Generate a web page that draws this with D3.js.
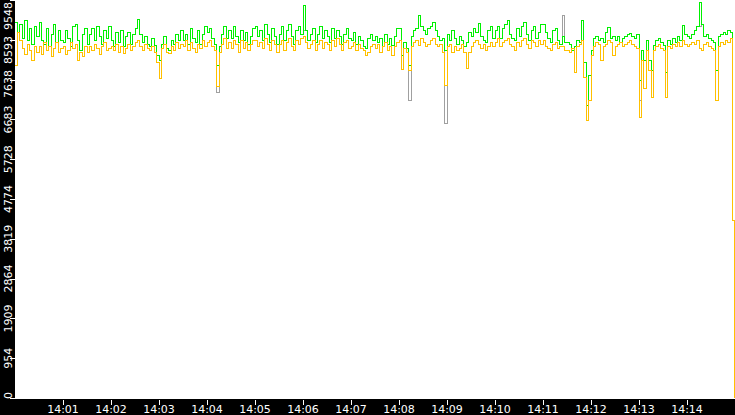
<!DOCTYPE html>
<html><head><meta charset="utf-8">
<script src="https://cdn.jsdelivr.net/npm/d3@7"></script>
<style>html,body{margin:0;padding:0;background:#fff;overflow:hidden}</style>
</head><body><svg id="c" width="735" height="415"></svg>
<script>
const startTime = "2024-01-01T14:00:00Z";
const endTime = "2024-01-01T14:15:00Z";
const sampleStepSeconds = 3;
const lastSampleSecond = 899;

const yTickValues = [0, 954, 1909, 2864, 3819, 4774, 5728, 6683, 7638, 8593, 9548];
const yTickLabels = ["0", "954", "1909", "2864", "3819", "4774", "5728", "6683", "7638", "8593", "9548"];
const xTickLabels = ["14:01","14:02","14:03","14:04","14:05","14:06","14:07","14:08","14:09","14:10","14:11","14:12","14:13","14:14"];

const greenSeries = [
9020,8780,8972,8636,9068,8588,8876,8492,8924,8684,
9020,8588,8492,8876,8444,8732,8972,8540,8828,8588,
8540,8828,8636,8444,8924,8972,8588,8348,8732,8876,
8492,8732,8876,8588,8924,8684,8492,8828,8636,8924,
8588,8444,8780,8540,8828,8444,8684,8780,8492,8732,
8876,9092,8732,8540,8684,8492,8444,8636,8468,8228,
8108,8492,8684,8396,8348,8588,8492,8732,8588,8828,
8588,8732,8492,8876,8636,8540,8828,8492,8732,8924,
8780,8876,8636,8492,7988,8444,8732,8924,8636,8828,
8636,8924,8684,8540,8828,8588,8780,8492,8684,8876,
8924,8684,8828,8588,8972,8732,8540,8876,8684,8492,
8732,8924,8588,8828,8972,8684,8492,8828,8924,8732,
9428,8828,8588,8732,8876,8540,8732,8924,8636,8828,
8684,8540,8876,8636,8828,8684,8492,8732,8876,8636,
8588,8780,8492,8684,8588,8444,8396,8636,8732,8588,
8684,8540,8636,8444,8732,8492,8636,8468,8684,8876,
8876,8228,8540,8396,7988,8684,8828,8876,9188,8924,
8828,8732,8876,8924,9020,8828,8684,8588,8636,8348,
8732,8588,8828,8636,8492,8684,8588,8444,8540,8780,
8684,8876,8780,8996,8684,8588,8540,8828,8924,8636,
8828,8924,8636,8876,8972,9068,8732,8636,8588,8876,
8684,8924,9020,8732,8588,8828,8924,8636,8780,8972,
8972,8780,8636,8540,8828,8876,8588,8492,8684,8540,
8540,8492,8348,8444,8588,8540,9068,8060,7029,7748,
8348,8636,8684,8588,8636,8540,8780,8900,8636,8684,
8588,8684,8540,8636,8684,8732,8756,8684,8636,8732,
7628,8348,8108,8588,8108,7868,8468,8588,8636,8540,
8468,7820,8588,8492,8636,8540,8684,8588,8948,8732,
8684,8636,8732,8828,8924,9500,8972,8684,8732,8636,
8588,8540,7868,8684,8732,8780,8732,8828,8780,4270,
4270];

const orangeSeries = [
7988,8780,8588,8396,8252,8492,8348,8108,8444,8300,
8444,8252,8540,8348,8444,8204,8396,8540,8300,8396,
8444,8252,8348,8540,8396,8492,8108,8300,8204,8444,
8300,8444,8348,8492,8396,8252,8444,8540,8348,8396,
8444,8348,8492,8300,8444,8276,8396,8492,8348,8444,
8540,8588,8444,8348,8492,8396,8348,8444,8300,8060,
7676,8396,8492,8300,8276,8444,8348,8540,8396,8492,
8444,8588,8348,8540,8396,8300,8492,8396,8588,8444,
8540,8588,8444,8348,7484,8300,8492,8636,8396,8540,
8396,8588,8492,8300,8588,8396,8540,8348,8492,8588,
8588,8444,8540,8396,8636,8492,8348,8588,8492,8300,
8492,8588,8348,8540,8636,8444,8348,8588,8492,8636,
8684,8540,8396,8492,8588,8348,8492,8588,8396,8540,
8492,8348,8588,8444,8636,8492,8348,8540,8588,8396,
8444,8540,8348,8492,8396,8348,8228,8300,8444,8492,
8396,8492,8300,8444,8540,8348,8444,8228,8444,8540,
8588,7892,8396,8300,7868,8444,8540,8588,8468,8636,
8540,8444,8492,8588,8636,8492,8444,8492,8300,7508,
8444,8492,8300,8444,8348,8396,8492,8300,7916,8300,
8444,8540,8588,8492,8396,8492,8348,8444,8540,8444,
8540,8636,8444,8540,8588,8636,8492,8444,8348,8540,
8444,8588,8636,8492,8396,8588,8540,8444,8588,8492,
8588,8444,8396,8348,8492,8540,8396,8444,8444,8348,
8348,8300,8396,7820,8444,8492,8588,7700,6668,7148,
8228,8444,8540,8492,8108,8444,8492,8588,8540,8228,
8444,8492,8540,8444,8492,8540,8588,8492,8444,8396,
6740,8108,7436,8348,7868,7220,8348,8444,8492,8396,
8348,7220,8444,8396,8492,8444,8540,8444,8588,8492,
8444,8492,8540,8492,8588,8396,8348,8492,8540,8444,
8396,8348,7148,8444,8540,8492,8588,8540,8636,4270,
0];

const graySeries = [
9020,8780,8972,8636,9068,8588,8876,8492,8924,8684,
9020,8588,8492,8876,8444,8732,8972,8540,8828,8588,
8540,8828,8636,8444,8924,8972,8588,8348,8732,8876,
8492,8732,8876,8588,8924,8684,8492,8828,8636,8924,
8588,8444,8780,8540,8828,8444,8684,8780,8492,8732,
8876,9092,8732,8540,8684,8492,8444,8636,8468,8228,
8108,8492,8684,8396,8348,8588,8492,8732,8588,8828,
8588,8732,8492,8876,8636,8540,8828,8492,8732,8924,
8780,8876,8636,8492,7340,8444,8732,8924,8636,8828,
8636,8924,8684,8540,8828,8588,8780,8492,8684,8876,
8924,8684,8828,8588,8972,8732,8540,8876,8684,8492,
8732,8924,8588,8828,8972,8684,8492,8828,8924,8732,
8828,8828,8588,8732,8876,8540,8732,8924,8636,8828,
8684,8540,8876,8636,8828,8684,8492,8732,8876,8636,
8588,8780,8492,8684,8588,8444,8396,8636,8732,8588,
8684,8540,8636,8444,8732,8492,8636,8468,8684,8876,
8876,8228,8540,8396,7148,8684,8828,8876,9188,8924,
8828,8732,8876,8924,9020,8828,8684,8588,8636,6597,
8732,8588,8828,8636,8492,8684,8588,8444,8540,8780,
8684,8876,8780,8996,8684,8588,8540,8828,8924,8636,
8828,8924,8636,8876,8972,9068,8732,8636,8588,8876,
8684,8924,9020,8732,8588,8828,8924,8636,8780,8972,
8972,8780,8636,8540,8828,8876,8588,8492,9188,8540,
8540,8492,8348,8444,8588,8540,9068,8060,7029,7748,
8348,8636,8684,8588,8636,8540,8780,8900,8636,8684,
8588,8684,8540,8636,8684,8732,8756,8684,8636,8732,
7148,8348,8108,8588,8108,7868,8468,8588,8636,8540,
8468,7820,8588,8492,8636,8540,8684,8588,8948,8732,
8684,8636,8732,8828,8924,8924,8972,8684,8732,8636,
8588,8540,7868,8684,8732,8780,8732,8828,8780,4270,
4270];

const W = 735, H = 415;
const plotLeft = 15, plotBottom = 398, axisTop = 399;
const t0 = new Date(startTime), t1 = new Date(endTime);
const n = greenSeries.length;
const times = d3.range(n).map(i => new Date(+t0 + 1000 * (i < n - 1 ? i * sampleStepSeconds : lastSampleSecond)));

const x = d3.scaleUtc().domain([t0, t1]).range([plotLeft, W]);
const y = d3.scaleLinear().domain([0, 9548]).range([plotBottom, 0]);

const svg = d3.select("#c");
svg.append("rect").attr("x",0).attr("y",0).attr("width",W).attr("height",H).attr("fill","#fff");

svg.append("defs").append("clipPath").attr("id","clip")
  .append("rect").attr("x",plotLeft).attr("y",0).attr("width",W-plotLeft).attr("height",axisTop);

const line = d3.line().curve(d3.curveStepAfter).x((d,i)=>x(times[i])).y(d=>y(d));
const g = svg.append("g").attr("clip-path","url(#clip)");
[[graySeries,"#a0a0a0"],[greenSeries,"#00f000"],[orangeSeries,"#ffc000"]].forEach(([s,c])=>{
  g.append("path").datum(s).attr("d",line).attr("fill","none").attr("stroke",c)
   .attr("stroke-width",1).attr("shape-rendering","crispEdges");
});

// black axis strips
svg.append("rect").attr("x",0).attr("y",0).attr("width",plotLeft).attr("height",H).attr("fill","#000");
svg.append("rect").attr("x",0).attr("y",axisTop).attr("width",W).attr("height",H-axisTop).attr("fill","#000");

const font = "DejaVu Sans";
// y ticks
const yAxisG = svg.append("g");
yTickValues.forEach(v=>{
  const yy = Math.round(y(v)) + 0.5;
  yAxisG.append("line").attr("x1",10).attr("x2",plotLeft).attr("y1",yy).attr("y2",yy)
    .attr("stroke","#fff").attr("stroke-width",1).attr("shape-rendering","crispEdges");
});
// y labels with collision avoidance (top to bottom)
const labels = yTickValues.map((v,i)=>({v, text:yTickLabels[i]})).reverse();
labels.forEach(l=>{
  const t = yAxisG.append("text").attr("font-family",font).attr("font-size",11).attr("fill","#fff")
    .attr("text-anchor","middle").text(l.text);
  l.node = t; l.len = t.node().getComputedTextLength(); l.c = y(l.v);
});
let prevBottom = -4;
labels.forEach(l=>{
  let top = l.c - l.len/2;
  if (top < prevBottom + 6) top = prevBottom + 6;
  if (top + l.len > axisTop) top = axisTop - l.len;
  l.c = top + l.len/2; prevBottom = top + l.len;
  l.node.attr("transform",`translate(12,${l.c}) rotate(-90)`);
});

// x ticks
const xTimes = xTickLabels.map(s => new Date(startTime.slice(0,11) + s + ":00Z"));
const xAxisG = svg.append("g");
xTimes.forEach((t,i)=>{
  const xx = Math.round(x(t)) + 0.5;
  xAxisG.append("line").attr("x1",xx).attr("x2",xx).attr("y1",axisTop+1).attr("y2",axisTop+6)
    .attr("stroke","#fff").attr("stroke-width",1).attr("shape-rendering","crispEdges");
  xAxisG.append("text").attr("x",x(t)).attr("y",413).attr("font-family",font).attr("font-size",11)
    .attr("fill","#fff").attr("text-anchor","middle").text(xTickLabels[i]);
});
</script></body></html>
